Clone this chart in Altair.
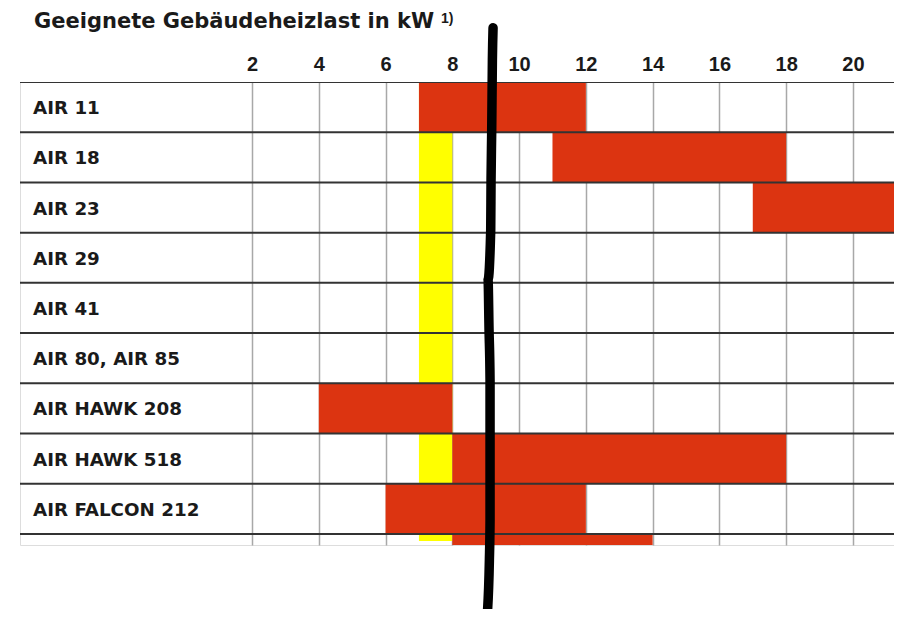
import altair as alt
import pandas as pd

# ---- data ----
title_text = "Geeignete Gebäudeheizlast in kW"
footnote_mark = "1)"
models = ["AIR 11", "AIR 18", "AIR 23", "AIR 29", "AIR 41", "AIR 80, AIR 85",
          "AIR HAWK 208", "AIR HAWK 518", "AIR FALCON 212", ""]
range_start = [7, 11, 17, None, None, None, 4, 8, 6, 8]
range_end = [12, 18, 23, None, None, None, 8, 18, 12, 14]
tick_values = [2, 4, 6, 8, 10, 12, 14, 16, 18, 20]
band_start = [7]
band_end = [8]
band_rows = [0, 9.14]
marker_x = [9.22, 9.20, 9.18, 9.16, 9.15, 9.07, 9.10, 9.13, 9.13, 9.13, 9.11, 9.04]
marker_y = [-1.08, -0.44, 0.96, 1.95, 2.95, 3.94, 4.94, 5.94, 7.13, 8.73, 9.52, 10.66]

TICK_FONT = "Liberation Sans, Arial, Helvetica, sans-serif"
FONT = "DejaVu Sans, Verdana, sans-serif"
RED = "#DC3411"
X_DOMAIN = [-4.95, 21.23]
Y_DOMAIN = [0, 9.22]

rows = pd.DataFrame({
    "model": models,
    "row": list(range(len(models))),
})
rows["row_end"] = rows["row"] + 1
rows["mid"] = rows["row"] + 0.5
rows["start"] = range_start
rows["end"] = range_end
bars_df = rows.dropna(subset=["start"])

seps = pd.DataFrame({"sep": list(range(len(models)))})
band = pd.DataFrame({"x": band_start, "x2": band_end, "y": [band_rows[0]], "y2": [band_rows[1]]})
marker = pd.DataFrame({"x": marker_x, "y": marker_y, "seq": list(range(len(marker_x)))})
title_df = pd.DataFrame({"t": [title_text]})
foot_df = pd.DataFrame({"t": [footnote_mark]})

xscale = alt.Scale(domain=X_DOMAIN, nice=False, zero=False)
yscale = alt.Scale(domain=Y_DOMAIN, nice=False, zero=False, reverse=True)

yellow = alt.Chart(band).mark_rect(color="#FFFF00", clip=True).encode(
    x=alt.X("x:Q", scale=xscale, title=None,
            axis=alt.Axis(orient="top", values=tick_values, domain=False, ticks=False,
                          labelPadding=12, labelFont=TICK_FONT, labelFontSize=20,
                          labelFontWeight="bold", labelColor="#1a1a1a",
                          labelBaseline="alphabetic",
                          grid=True, gridColor="#a8a8a8", gridWidth=1.5)),
    x2="x2:Q",
    y=alt.Y("y:Q", scale=yscale, axis=None), y2="y2:Q",
)

bars = alt.Chart(bars_df).mark_rect(color=RED, clip=True).encode(
    x=alt.X("start:Q", scale=xscale),
    x2="end:Q",
    y=alt.Y("row:Q", scale=yscale),
    y2="row_end:Q",
)

separators = alt.Chart(seps).mark_rule(color="#333333", strokeWidth=2, clip=True).encode(
    y=alt.Y("sep:Q", scale=yscale),
)

labels = alt.Chart(rows).mark_text(
    align="left", baseline="middle", font=FONT, fontSize=18.3, fontWeight="bold",
    color="#1a1a1a", clip=True, dy=2,
).encode(
    x=alt.value(13),
    y=alt.Y("mid:Q", scale=yscale),
    text="model:N",
)

line = alt.Chart(marker).mark_line(
    color="black", strokeWidth=9.5, strokeCap="round", strokeJoin="round",
    interpolate="monotone",
).encode(
    x=alt.X("x:Q", scale=xscale),
    y=alt.Y("y:Q", scale=yscale),
    order="seq:Q",
)

title = alt.Chart(title_df).mark_text(
    align="left", baseline="alphabetic", font=FONT, fontSize=21, fontWeight="bold",
    color="#1a1a1a",
).encode(x=alt.value(14), y=alt.value(-54), text="t:N")

foot = alt.Chart(foot_df).mark_text(
    align="left", baseline="alphabetic", font=TICK_FONT, fontSize=14, fontWeight="bold",
    color="#1a1a1a",
).encode(x=alt.value(421), y=alt.value(-59), text="t:N")

chart = alt.layer(yellow, bars, separators, labels, line, title, foot).properties(
    width=874, height=463,
    padding={"left": 12, "top": 74, "right": 0, "bottom": 64},
    autosize=alt.AutoSizeParams(type="none"),
).configure_view(stroke=None).configure(background="white")

chart.save("out.html", embed_options={"renderer": "svg", "actions": False})
